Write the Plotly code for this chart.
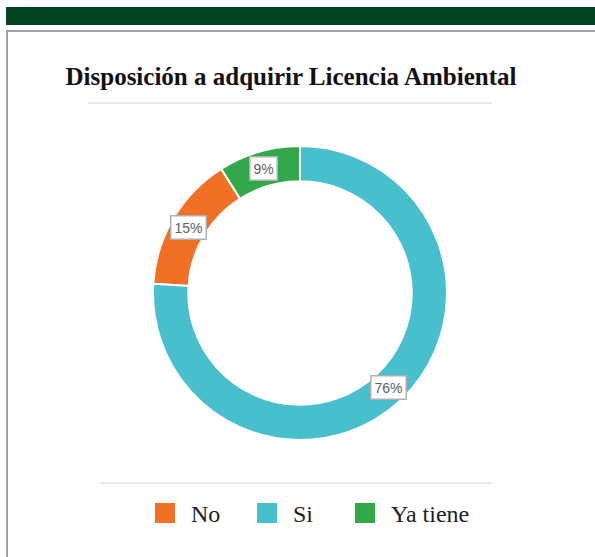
import math
import plotly.graph_objects as go

# Data
labels = ["No", "Si", "Ya tiene"]
values = [15, 76, 9]
colors = ["#F07026", "#48BFCC", "#33A84B"]
title_text = "Disposición a adquirir Licencia Ambiental"

W, H = 595, 557
def px(x):
    return x / W
def py(y):
    return 1 - y / H

# donut geometry (pixels)
CX, CY, R_OUT = 300, 293, 147
HOLE = 0.76
R_MID = R_OUT * (1 + HOLE) / 2

total = sum(values)
# counterclockwise: first slice occupies [rotation, rotation + v0] clockwise
rotation = -360.0 * (values[0] + values[-1]) / total

fig = go.Figure()
fig.add_trace(go.Pie(
    labels=labels, values=values, sort=False, direction="counterclockwise",
    rotation=rotation, hole=HOLE, textinfo="none", hoverinfo="label+percent",
    marker=dict(colors=colors, line=dict(color="white", width=2)),
    domain=dict(x=[px(CX - R_OUT), px(CX + R_OUT)], y=[py(CY + R_OUT), py(CY - R_OUT)]),
    showlegend=False,
))

annotations = []
shapes = []

# percentage labels in boxes
start = 360.0 * values[-1] / total  # ccw degrees from 12 o'clock where first slice starts
for lab, v in zip(labels, values):
    frac = v / total
    mid = math.radians(start + frac * 180)
    x = CX - R_MID * math.sin(mid)
    y = CY - R_MID * math.cos(mid)
    annotations.append(dict(
        x=px(x), y=py(y), xref="paper", yref="paper", showarrow=False,
        text=f"{round(100 * frac)}%", font=dict(family="Arial", size=14, color="#606060"),
        bgcolor="white", bordercolor="#b0b0b0", borderwidth=1.5, borderpad=3,
        xanchor="center", yanchor="middle",
    ))
    start += frac * 360

# custom legend
leg_sq_x = [155, 257, 355]
leg_y = 513
for lab, col, sx in zip(labels, colors, leg_sq_x):
    shapes.append(dict(type="rect", xref="paper", yref="paper",
                       x0=px(sx), x1=px(sx + 20), y0=py(leg_y + 10), y1=py(leg_y - 10),
                       fillcolor=col, line=dict(width=0)))
    annotations.append(dict(
        x=px(sx + 34), y=py(leg_y + 1), xref="paper", yref="paper", showarrow=False,
        text=lab, font=dict(family="Liberation Serif", size=24, color="#222222"),
        xanchor="left", yanchor="middle",
    ))

# top green bar
shapes.append(dict(type="rect", xref="paper", yref="paper",
                   x0=px(6), x1=px(600), y0=py(25), y1=py(7),
                   fillcolor="#034223", line=dict(width=0)))
# frame (left + top)
shapes.append(dict(type="rect", xref="paper", yref="paper",
                   x0=px(7), x1=px(610), y0=py(580), y1=py(31),
                   fillcolor="rgba(0,0,0,0)", line=dict(color="#a3a3a3", width=2)))
# separator lines
shapes.append(dict(type="line", xref="paper", yref="paper",
                   x0=px(88), x1=px(492), y0=py(103), y1=py(103),
                   line=dict(color="#e4dfdd", width=1.5)))
shapes.append(dict(type="line", xref="paper", yref="paper",
                   x0=px(100), x1=px(492), y0=py(483), y1=py(483),
                   line=dict(color="#e4dfdd", width=1.5)))

fig.update_layout(
    width=W, height=H,
    margin=dict(l=0, r=0, t=0, b=0),
    paper_bgcolor="white", plot_bgcolor="white",
    title=dict(text=f"<b>{title_text}</b>", x=px(291), y=py(76), xanchor="center", yanchor="middle",
               xref="paper", yref="paper",
               font=dict(family="Liberation Serif", size=25, color="#111111")),
    annotations=annotations, shapes=shapes,
)

fig.write_html("out.html", config={"displayModeBar": False},
               post_script="document.body.style.margin='0';document.body.style.overflow='hidden';")
